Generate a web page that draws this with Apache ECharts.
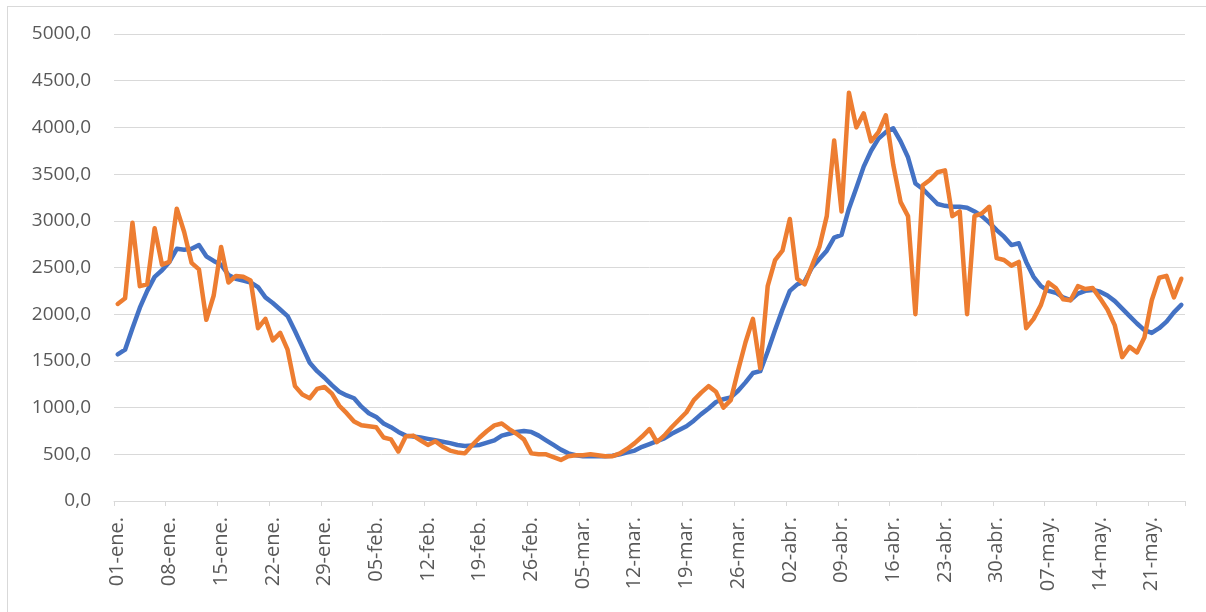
<!DOCTYPE html>
<html>
<head>
<meta charset="utf-8">
<script src="https://cdn.jsdelivr.net/npm/echarts@6/dist/echarts.min.js"></script>
<style>
  html, body { margin: 0; padding: 0; background: #ffffff; }
  #frame { position: absolute; left: 7px; top: 6px; width: 1220px; height: 640px; border: 1px solid #d9d9d9; box-sizing: border-box; }
  #chart { position: absolute; left: 0; top: 0; width: 1206px; height: 612px; }
</style>
</head>
<body>
<div id="frame"></div>
<div id="chart"></div>
<script>
// Month names and number of days shown per month (01-ene. .. 25-may.)
const monthNames = ['ene', 'feb', 'mar', 'abr', 'may'];
const monthDays = [31, 28, 31, 30, 25];

// Blue series (smoothed / average)
const serieAzul = [
  1570, 1620, 1850, 2070, 2250, 2400, 2470, 2560, 2700, 2690,
  2700, 2740, 2620, 2570, 2530, 2420, 2380, 2360, 2340, 2290,
  2180, 2120, 2050, 1980, 1820, 1650, 1480, 1390, 1320, 1240,
  1170, 1130, 1100, 1010, 940, 900, 830, 790, 740, 700,
  690, 680, 665, 650, 635, 620, 600, 590, 595, 600,
  625, 650, 700, 720, 740, 750, 740, 700, 650, 600,
  550, 510, 490, 480, 480, 480, 480, 485, 500, 520,
  540, 580, 610, 640, 670, 720, 760, 800, 860, 930,
  990, 1060, 1090, 1110, 1180, 1270, 1370, 1390, 1600, 1830,
  2050, 2250, 2320, 2350, 2500, 2590, 2680, 2820, 2850, 3130,
  3350, 3580, 3750, 3880, 3950, 3990, 3850, 3680, 3400, 3340,
  3260, 3180, 3160, 3150, 3150, 3140, 3100, 3050, 2980, 2900,
  2830, 2740, 2760, 2560, 2400, 2300, 2250, 2230, 2180, 2150,
  2220, 2250, 2260, 2240, 2200, 2140, 2060, 1980, 1900, 1830,
  1800, 1850, 1920, 2020, 2100
];

// Orange series (daily values)
const serieNaranja = [
  2110, 2170, 2980, 2300, 2320, 2920, 2530, 2560, 3130, 2880,
  2550, 2480, 1940, 2200, 2720, 2340, 2410, 2400, 2360, 1850,
  1950, 1720, 1800, 1620, 1230, 1140, 1100, 1200, 1220, 1150,
  1020, 940, 850, 810, 800, 790, 680, 660, 530, 690,
  700, 650, 600, 640, 580, 540, 520, 510, 600, 680,
  750, 810, 830, 770, 720, 660, 510, 500, 500, 470,
  440, 480, 490, 490, 500, 490, 480, 480, 510, 560,
  620, 690, 770, 630, 700, 790, 870, 950, 1080, 1160,
  1230, 1170, 1000, 1080, 1400, 1700, 1950, 1420, 2300, 2580,
  2680, 3020, 2380, 2320, 2520, 2720, 3050, 3860, 3100, 4370,
  4000, 4150, 3850, 3950, 4130, 3600, 3200, 3050, 2000, 3380,
  3440, 3520, 3540, 3050, 3100, 2000, 3050, 3080, 3150, 2600,
  2580, 2520, 2560, 1850, 1950, 2100, 2340, 2280, 2160, 2150,
  2300, 2270, 2280, 2170, 2050, 1880, 1540, 1650, 1590, 1750,
  2150, 2390, 2410, 2180, 2380
];

// Y axis ticks
const yMin = 0, yMax = 5000, yStep = 500;

const categories = [];
monthNames.forEach((m, mi) => {
  for (let d = 1; d <= monthDays[mi]; d++) {
    categories.push(String(d).padStart(2, '0') + '-' + m + '.');
  }
});

const chart = echarts.init(document.getElementById('chart'), null, { renderer: 'canvas' });
const fontFamily = '"Open Sans", "Liberation Sans", "DejaVu Sans", sans-serif';

chart.setOption({
  animation: false,
  backgroundColor: 'transparent',
  grid: { left: 114, right: 21, top: 34, bottom: 111, containLabel: false },
  xAxis: {
    type: 'category',
    data: categories,
    boundaryGap: true,
    axisLine: { show: true, lineStyle: { color: '#d9d9d9', width: 1 } },
    axisTick: { show: true, interval: 6, length: 5, lineStyle: { color: '#d9d9d9' } },
    axisLabel: {
      interval: 6,
      rotate: 90,
      margin: 16,
      color: '#595959',
      fontSize: 20,
      fontFamily: fontFamily
    },
    splitLine: { show: false }
  },
  yAxis: {
    type: 'value',
    min: yMin,
    max: yMax,
    interval: yStep,
    axisLine: { show: false },
    axisTick: { show: false },
    axisLabel: {
      margin: 23,
      color: '#595959',
      fontSize: 19,
      fontFamily: fontFamily,
      formatter: v => v.toFixed(1).replace('.', ',')
    },
    splitLine: { show: true, lineStyle: { color: '#d9d9d9', width: 1 } }
  },
  series: [
    {
      name: 'Serie 1',
      type: 'line',
      data: serieAzul,
      symbol: 'none',
      lineStyle: { color: '#4472C4', width: 4.5, join: 'round', cap: 'round' },
      itemStyle: { color: '#4472C4' },
      z: 2
    },
    {
      name: 'Serie 2',
      type: 'line',
      data: serieNaranja,
      symbol: 'none',
      lineStyle: { color: '#ED7D31', width: 4.5, join: 'round', cap: 'round' },
      itemStyle: { color: '#ED7D31' },
      z: 3
    }
  ]
});
</script>
</body>
</html>
